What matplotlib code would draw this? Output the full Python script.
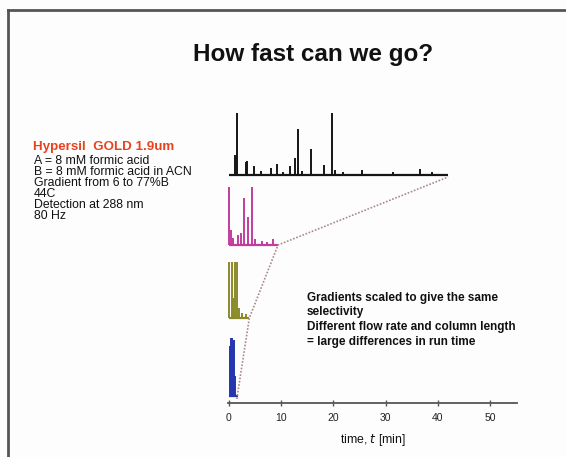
import matplotlib
matplotlib.use("Agg")
import matplotlib.pyplot as plt
from matplotlib.lines import Line2D

plt.rcParams["font.family"] = ["Liberation Sans", "DejaVu Sans"]

# chromatogram traces: baseline offset, run end (min), peak times and heights
black_base, black_end = 228, 42.0
black_t = [1.15, 1.5, 3.3, 3.5, 4.8, 6.1, 8.0, 9.2, 10.3, 11.6, 12.7, 13.2, 14.0,
           15.8, 18.3, 19.7, 20.4, 21.9, 25.5, 31.5, 36.7, 39.0]
black_h = [20, 62, 13, 14, 9, 4, 7, 11, 3, 9, 17, 46, 4, 26, 10, 62, 5, 3, 5, 3, 6, 3]

magenta_base, magenta_end = 158, 9.4
magenta_t = [0.0, 0.4, 0.8, 1.8, 2.3, 2.9, 3.6, 4.4, 5.0, 6.3, 7.2, 8.4]
magenta_h = [58, 15, 7, 10, 12, 47, 28, 58, 6, 4, 3, 6]

olive_base, olive_end = 85, 3.9
olive_t = [0.0, 0.5, 0.8, 1.1, 1.6, 2.0, 2.5, 3.2]
olive_h = [56, 56, 20, 56, 56, 10, 5, 4]

blue_base, blue_end = 7, 1.8
blue_t = [0.1, 0.3, 0.5, 0.8, 1.0, 1.2]
blue_h = [50, 58, 58, 55, 56, 20]

# gradient profile connecting run ends
grad_t = [1.5, 3.9, 9.4, 42.0]
grad_y = [4, 85, 158, 226]

xticks = [0, 10, 20, 30, 40, 50]

left_lines = ["A = 8 mM formic acid", "B = 8 mM formic acid in ACN",
              "Gradient from 6 to 77%B", "44C", "Detection at 288 nm", "80 Hz"]
note_lines = ["Gradients scaled to give the same", "selectivity",
              "Different flow rate and column length", "= large differences in run time"]

W, H = 566, 457
fig = plt.figure(figsize=(W / 100, H / 100), dpi=100, facecolor="#fdfdfd")
ax = fig.add_axes([228 / W, 54 / H, 289 / W, 303 / H])
ax.set_facecolor("none")

traces = [
    (black_t, black_h, black_base, black_end, "#151515"),
    (magenta_t, magenta_h, magenta_base, magenta_end, "#c23c9e"),
    (olive_t, olive_h, olive_base, olive_end, "#8a8a28"),
    (blue_t, blue_h, blue_base, blue_end, "#2536b0"),
]
for t, h, base, end, col in traces:
    ax.plot([0, end], [base, base], color=col, lw=1.6, solid_capstyle="butt")
    ax.vlines(t, base, [base + v for v in h], color=col, lw=1.4)

ax.plot(grad_t, grad_y, color="#a88a8a", lw=1.2, ls=(0, (1, 1)))

ax.set_xlim(-0.19, 55.2)
ax.set_ylim(0, 303)
ax.set_yticks([])
for s in ["left", "top", "right"]:
    ax.spines[s].set_visible(False)
ax.spines["bottom"].set_color("#555555")
ax.spines["bottom"].set_linewidth(1.3)
ax.set_xticks(xticks)
ax.tick_params(axis="x", direction="inout", length=4, width=1, color="#555555",
               labelsize=7.5, labelcolor="#222222", pad=5)
ax.set_xlabel("time, $\\it{t}$ [min]", fontsize=8.8, color="#111111", labelpad=7)

# slide frame
fig.add_artist(Line2D([8 / W, 1], [1 - 10 / H, 1 - 10 / H], color="#555555", lw=2))
fig.add_artist(Line2D([8 / W, 8 / W], [0, 1 - 10 / H], color="#555555", lw=2))

fig.text(313 / W, 1 - 54 / H, "How fast can we go?", fontsize=17.5, fontweight="bold",
         ha="center", va="center", color="#111111")

fig.text(33 / W, 1 - 147 / H, "Hypersil  GOLD 1.9um", fontsize=9.6, fontweight="bold",
         color="#e8431e", ha="left", va="center")
for i, s in enumerate(left_lines):
    fig.text(34 / W, 1 - (160.7 + 11.1 * i) / H, s, fontsize=8.8, color="#111111",
             ha="left", va="center")

for i, s in enumerate(note_lines):
    fig.text(307 / W, 1 - (298 + 14.5 * i) / H, s, fontsize=8.5, fontweight="bold",
             color="#111111", ha="left", va="center")

fig.savefig("out.png", dpi=100, facecolor=fig.get_facecolor())
